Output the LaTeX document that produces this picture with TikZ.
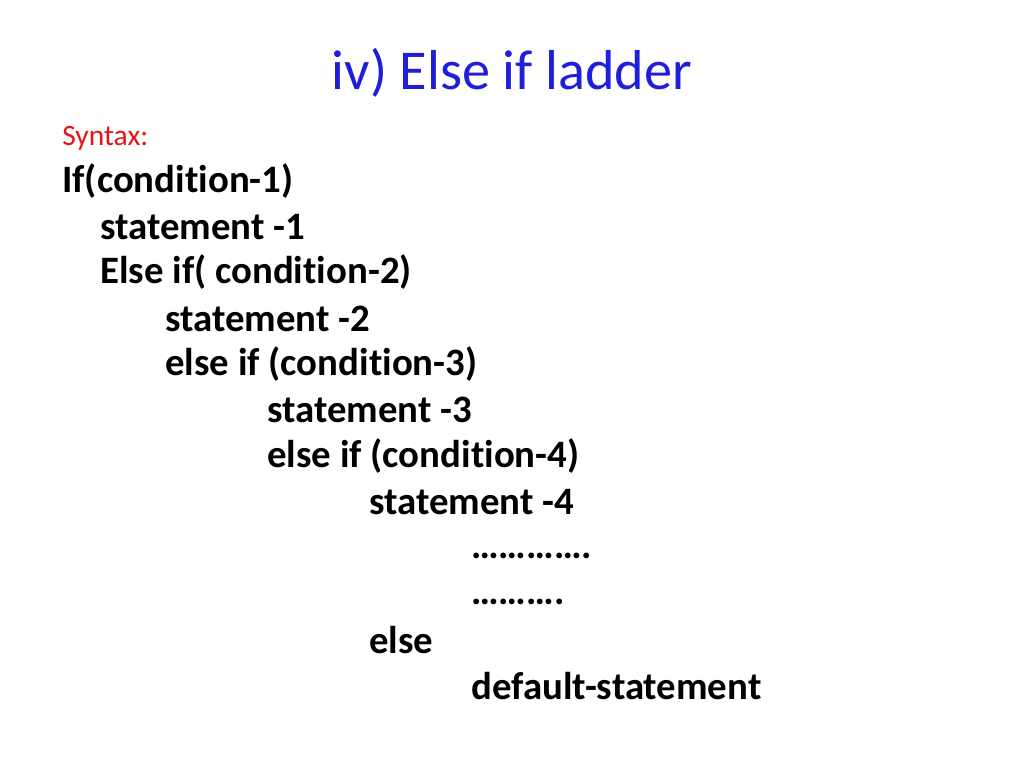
\documentclass[tikz,border=0pt]{standalone}
\usepackage{fontspec}
\setmainfont{Carlito}[RawFeature={-liga;-clig;-dlig}]
\usepackage{xcolor}
\usetikzlibrary{positioning}
\definecolor{titleblue}{RGB}{30, 30, 220}
\definecolor{syntaxred}{RGB}{230, 20, 20}

\begin{document}
\begin{tikzpicture}[
    x=0.025cm, y=-0.025cm,
    line/.style={anchor=west, inner sep=0pt, font=\fontsize{27.6}{30}\selectfont\bfseries},
    title/.style={inner sep=0pt, text=titleblue, font=\fontsize{40}{44}\selectfont},
    label/.style={anchor=west, inner sep=0pt, text=syntaxred, font=\fontsize{21}{24}\selectfont}
]
\useasboundingbox (0,0) rectangle (1024,768);

% Title
\node[title] (heading) at (512,73) {iv) Else if ladder};

% Syntax lines
\node[label] (syntax) at (62,138) {Syntax:};
\node[line] (if1) at (62,181) {If(condition-1)};
\node[line] (st1) at (100,227) {statement -1};
\node[line] (elif2) at (100,272) {Else if( condition-2)};
\node[line] (st2) at (165,319) {statement -2};
\node[line] (elif3) at (165,364) {else if (condition-3)};
\node[line] (st3) at (267,410) {statement -3};
\node[line] (elif4) at (267,456) {else if (condition-4)};
\node[line] (st4) at (369,502) {statement -4};
\node[line] (dots1) at (471,556) {………….};
\node[line] (dots2) at (471,602) {……….};
\node[line] (else) at (369,640) {else};
\node[line] (default) at (471,686) {default-statement};

\end{tikzpicture}
\end{document}
